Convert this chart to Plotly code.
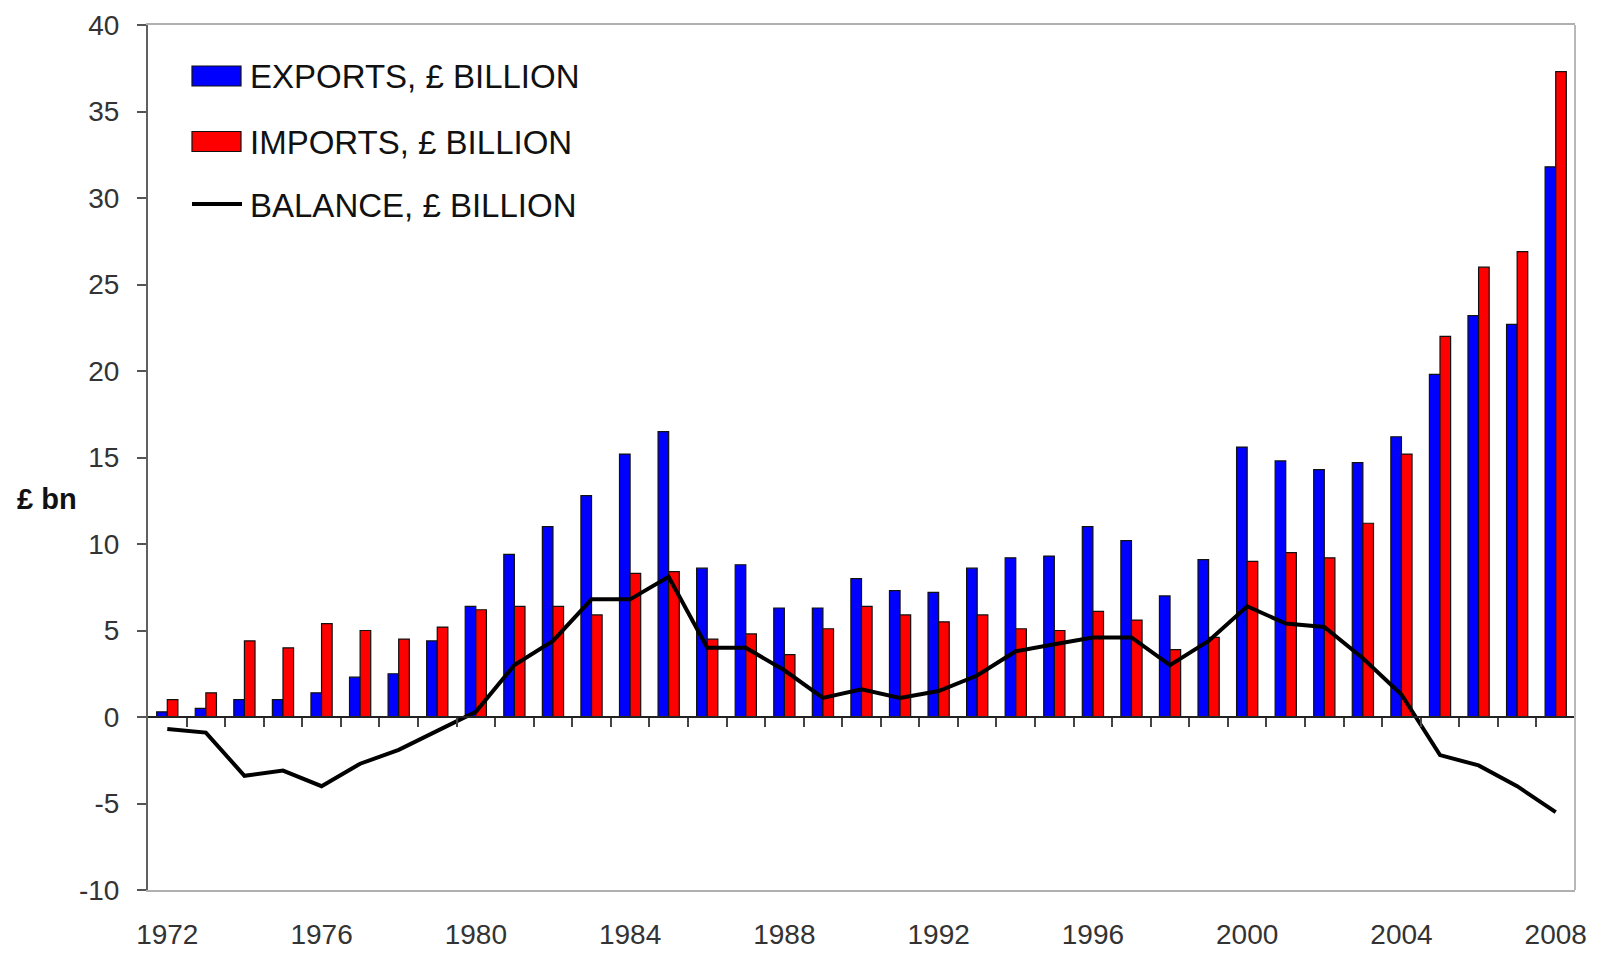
import plotly.graph_objects as go

years = list(range(1972, 2009))

exports = [0.3, 0.5, 1.0, 1.0, 1.4, 2.3, 2.5, 4.4, 6.4, 9.4,
           11.0, 12.8, 15.2, 16.5, 8.6, 8.8, 6.3, 6.3, 8.0, 7.3,
           7.2, 8.6, 9.2, 9.3, 11.0, 10.2, 7.0, 9.1, 15.6, 14.8,
           14.3, 14.7, 16.2, 19.8, 23.2, 22.7, 31.8]

imports = [1.0, 1.4, 4.4, 4.0, 5.4, 5.0, 4.5, 5.2, 6.2, 6.4,
           6.4, 5.9, 8.3, 8.4, 4.5, 4.8, 3.6, 5.1, 6.4, 5.9,
           5.5, 5.9, 5.1, 5.0, 6.1, 5.6, 3.9, 4.6, 9.0, 9.5,
           9.2, 11.2, 15.2, 22.0, 26.0, 26.9, 37.3]

balance = [-0.7, -0.9, -3.4, -3.1, -4.0, -2.7, -1.9, -0.8, 0.3, 3.0,
           4.4, 6.8, 6.8, 8.1, 4.0, 4.0, 2.7, 1.1, 1.6, 1.1,
           1.5, 2.4, 3.8, 4.2, 4.6, 4.6, 3.0, 4.4, 6.4, 5.4,
           5.2, 3.4, 1.3, -2.2, -2.8, -4.0, -5.5]

tick_years = list(range(1972, 2009, 4))
y_ticks = [-10, -5, 0, 5, 10, 15, 20, 25, 30, 35, 40]
y_tick_text = ["-10", "-5", "0", "5", "10", "15", "20", "25", "30", "35", "40"]
legend_labels = ["EXPORTS, £ BILLION", "IMPORTS, £ BILLION", "BALANCE, £ BILLION"]

# page body has an 8px margin, so the figure is shrunk by that much
OFF = 8
W, H = 1599 - OFF, 953 - OFF
PL, PR, PT, PB = 148, 1575, 25, 890   # plot area in page pixels
L, R, T, B = PL - OFF, 1599 - PR, PT - OFF, 953 - PB

FONT = "Liberation Sans, Arial, sans-serif"

fig = go.Figure()
fig.add_trace(go.Bar(x=years, y=exports, name=legend_labels[0],
                     marker=dict(color="#0000ff", line=dict(color="#111111", width=1.2))))
fig.add_trace(go.Bar(x=years, y=imports, name=legend_labels[1],
                     marker=dict(color="#ff0000", line=dict(color="#111111", width=1.2))))
fig.add_trace(go.Scatter(x=years, y=balance, name=legend_labels[2], mode="lines",
                         line=dict(color="black", width=4)))

# hidden axis at y=0 just for the little category tick marks
fig.add_trace(go.Scatter(x=years, y=[None] * len(years), xaxis="x2", showlegend=False,
                         hoverinfo="skip"))


def px_x(p):
    return (p - PL) / (PR - PL)


def px_y(p):
    return (PB - p) / (PB - PT)


# hand-drawn legend, Excel style (big swatches)
rows = [76, 141.5, 204]
colors = ["#0000ff", "#ff0000", None]
shapes = []
annotations = []
for lab, col, ry in zip(legend_labels, colors, rows):
    if col:
        shapes.append(dict(type="rect", xref="paper", yref="paper",
                           x0=px_x(192), x1=px_x(241), y0=px_y(ry + 10), y1=px_y(ry - 10),
                           fillcolor=col, line=dict(color="#111111", width=1.2)))
    else:
        shapes.append(dict(type="line", xref="paper", yref="paper",
                           x0=px_x(192), x1=px_x(242), y0=px_y(ry), y1=px_y(ry),
                           line=dict(color="black", width=4)))
    annotations.append(dict(text=lab, xref="paper", yref="paper", x=px_x(248), y=px_y(ry + 1),
                            xanchor="left", yanchor="middle", showarrow=False,
                            font=dict(family=FONT, size=33, color="#111111")))

annotations.append(dict(text="<b>£ bn</b>", xref="paper", yref="paper", x=px_x(15), y=px_y(499),
                        xanchor="left", yanchor="middle", showarrow=False,
                        font=dict(family=FONT, size=29, color="#111111")))

# light grey right border of the plot area
shapes.append(dict(type="line", xref="paper", yref="paper", x0=1, x1=1, y0=0, y1=1,
                   line=dict(color="#b8b8b8", width=2)))

fig.update_layout(
    width=W, height=H,
    margin=dict(l=L, r=R, t=T, b=B, autoexpand=False),
    paper_bgcolor="white", plot_bgcolor="white",
    barmode="group", bargap=0.45, bargroupgap=0,
    showlegend=False,
    font=dict(family=FONT, size=28, color="#333333"),
    xaxis=dict(range=[1971.5, 2008.5], tickvals=tick_years, ticktext=[str(y) for y in tick_years],
               showgrid=False, zeroline=False, ticks="", showline=True, linecolor="#b0b0b0",
               linewidth=2, mirror=True, ticklabelstandoff=18, automargin=False,
               tickfont=dict(family=FONT, size=28, color="#333333")),
    xaxis2=dict(range=[1971.5, 2008.5], overlaying="x", anchor="free", position=0.2,
                tickvals=[y + 0.5 for y in years[:-1]], ticks="outside", ticklen=9,
                tickcolor="#444444", tickwidth=1.5, showticklabels=False, showline=True,
                linecolor="#222222", linewidth=2, showgrid=False, zeroline=False,
                automargin=False),
    yaxis=dict(range=[-10, 40], tickvals=y_ticks, ticktext=y_tick_text,
               showgrid=False, zeroline=False,
               ticks="outside", ticklen=9, tickcolor="#555555", tickwidth=1.5, showline=True,
               linecolor="#606060", linewidth=2, mirror=False, ticklabelstandoff=12,
               automargin=False, tickfont=dict(family=FONT, size=28, color="#333333")),
    shapes=shapes,
    annotations=annotations,
)

fig.write_html("out.html")
